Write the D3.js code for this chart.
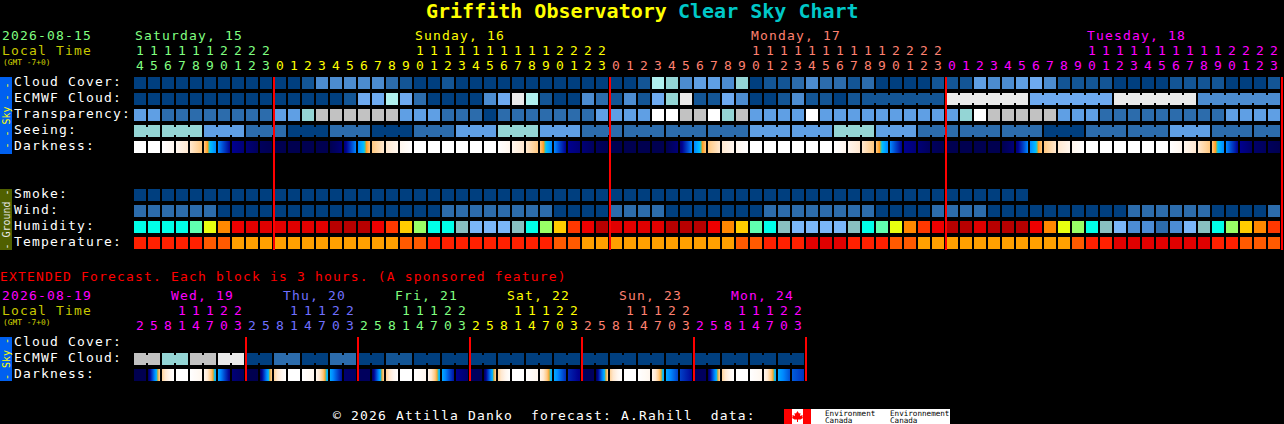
<!DOCTYPE html>
<html>
<head>
<meta charset="utf-8">
<title>Griffith Observatory Clear Sky Chart</title>
<script src="https://cdn.jsdelivr.net/npm/d3@7"></script>
<style>
    html, body { margin: 0; padding: 0; background: #000; overflow: hidden; }
    svg { display: block; }
    text { font-family: "DejaVu Sans Mono", monospace; font-size: 13px; letter-spacing: 1.17px; white-space: pre; }
</style>
</head>
<body>
<div id="chart"></div>
<script>
// forecast hours, one per column
const mainHours = [
    14, 15, 16, 17, 18, 19, 20, 21, 22, 23,
    0, 1, 2, 3, 4, 5, 6, 7, 8, 9, 10, 11, 12, 13, 14, 15, 16, 17, 18, 19, 20, 21, 22, 23,
    0, 1, 2, 3, 4, 5, 6, 7, 8, 9, 10, 11, 12, 13, 14, 15, 16, 17, 18, 19, 20, 21, 22, 23,
    0, 1, 2, 3, 4, 5, 6, 7, 8, 9, 10, 11, 12, 13, 14, 15, 16, 17, 18, 19, 20, 21, 22, 23
];
const extHours = [
    2, 5, 8, 11, 14, 17, 20, 23, 2, 5, 8, 11, 14, 17, 20, 23,
    2, 5, 8, 11, 14, 17, 20, 23, 2, 5, 8, 11, 14, 17, 20, 23,
    2, 5, 8, 11, 14, 17, 20, 23, 2, 5, 8, 11, 14, 17, 20, 23
];
const mainDays = ['Saturday, 15', 'Sunday, 16', 'Monday, 17', 'Tuesday, 18'];
const mainDayCols = [0, 20, 44, 68];
const mainDayBreaks = [0, 10, 34, 58, 82];
const extDays = ['Wed, 19', 'Thu, 20', 'Fri, 21', 'Sat, 22', 'Sun, 23', 'Mon, 24'];

// sky rows, indexes into skyColors
const cloudCover = [
    0, 0, 0, 0, 0, 0, 0, 0, 0, 0,
    0, 0, 1, 3, 3, 3, 3, 3, 2, 1,
    0, 0, 1, 0, 0, 0, 0, 0, 0, 0,
    0, 0, 0, 0, 0, 0, 1, 7, 6, 3,
    4, 4, 3, 6, 0, 1, 1, 2, 3, 2,
    2, 1, 2, 0, 0, 0, 0, 1, 1, 1,
    4, 3, 3, 4, 5, 3, 1, 1, 1, 1,
    0, 0, 0, 0, 1, 1, 1, 1, 0, 0,
    0, 1
];
const ecmwfCloud = [
    0, 0, 0, 0, 0, 0, 0, 0, 0, 0,
    0, 0, 0, 0, 0, 1, 5, 5, 7, 5,
    2, 0, 0, 0, 0, 3, 5, 9, 7, 1,
    0, 0, 3, 2, 1, 3, 1, 5, 6, 9,
    1, 1, 5, 3, 0, 0, 1, 3, 1, 1,
    0, 1, 1, 1, 1, 1, 1, 1, 9, 9,
    9, 9, 9, 9, 5, 5, 5, 5, 5, 5,
    9, 9, 9, 9, 9, 9, 3, 3, 3, 3,
    3, 3
];
const transparency = [
    4, 4, 2, 2, 2, 2, 2, 2, 2, 2,
    4, 4, 6, 8, 8, 8, 8, 8, 8, 4,
    4, 4, 2, 2, 2, 0, 2, 2, 2, 2,
    2, 2, 2, 4, 4, 4, 4, 10, 10, 8,
    8, 10, 6, 8, 4, 4, 4, 4, 10, 4,
    4, 4, 4, 4, 4, 4, 4, 4, 4, 6,
    10, 8, 8, 8, 8, 8, 4, 4, 4, 2,
    2, 2, 2, 2, 2, 2, 2, 2, 4, 4,
    4, 4
];
// seeing comes in 3 hour blocks, first and last are cut short
const seeing = [6, 6, 4, 2, 0, 2, 0, 2, 4, 6, 4, 2, 2, 2, 2, 4, 4, 6, 4, 2, 2, 2, 0, 2, 2, 4, 2, 2];
const seeingRuns = [2, 3, 3, 3, 3, 3, 3, 3, 3, 3, 3, 3, 3, 3, 3, 3, 3, 3, 3, 3, 3, 3, 3, 3, 3, 3, 3, 2];
const ecmwfRuns = [...Array(52).fill(1), 6, 6, 6, 6, 6];

// darkness at the left edge of each column (plus the closing edge)
const darkness = [
    8, 8, 8, 7, 6, 5, 3, 1, 0.6, 0.2,
    0, 0, 0, 0, 0, 0.6, 3, 5, 6, 7,
    8, 8, 8, 8, 8, 8, 8, 7, 6, 5,
    3, 1, 0.6, 0.2, 0, 0, 0, 0, 0, 0.6,
    3, 5, 6, 7, 8, 8, 8, 8, 8, 8,
    8, 7, 6, 5, 3, 1, 0.6, 0.2, 0, 0,
    0, 0, 0, 0.6, 3, 5, 6, 7, 8, 8,
    8, 8, 8, 8, 8, 7, 6, 5, 3, 1,
    0.4, 0.2, 0
];

const smoke = [
    0, 0, 0, 0, 0, 0, 0, 0, 0, 0, 0, 0, 0, 0, 0, 0,
    0, 0, 0, 0, 0, 0, 0, 0, 0, 0, 0, 0, 0, 0, 0, 0,
    0, 0, 0, 0, 0, 0, 0, 0, 0, 0, 0, 0, 0, 0, 0, 0,
    0, 0, 0, 0, 0, 0, 0, 0, 0, 0, 0, 0, 0, 0, 0, 0
];
const wind = [
    2, 2, 2, 2, 2, 2, 0, 0, 0, 0,
    0, 0, 0, 0, 0, 0, 0, 0, 0, 0,
    0, 0, 2, 2, 2, 2, 2, 2, 2, 2,
    0, 0, 0, 0, 2, 2, 2, 2, 0, 0,
    0, 0, 0, 0, 0, 2, 2, 2, 2, 2,
    2, 2, 2, 0, 0, 0, 0, 2, 2, 2,
    2, 0, 0, 0, 0, 0, 0, 0, 0, 0,
    0, 2, 2, 2, 2, 2, 2, 0, 0, 0,
    0, 2
];
const humidity = [
    4, 4, 4, 4, 5, 7, 9, 11, 12, 12,
    12, 12, 12, 12, 13, 13, 13, 11, 10, 8,
    6, 4, 4, 3, 2, 2, 2, 3, 4, 6,
    8, 10, 11, 13, 12, 12, 12, 12, 13, 13,
    13, 11, 9, 8, 5, 4, 3, 2, 2, 2,
    2, 3, 4, 5, 7, 9, 10, 11, 13, 13,
    12, 13, 13, 13, 11, 9, 7, 6, 4, 3,
    2, 1, 1, 0, 1, 2, 3, 4, 6, 8,
    9, 10
];
const temperature = [
    1, 1, 1, 1, 1, 2, 2, 3, 3, 3,
    3, 3, 3, 3, 3, 3, 3, 3, 3, 2,
    2, 1, 1, 1, 1, 1, 1, 1, 1, 1,
    2, 2, 3, 3, 3, 3, 3, 3, 3, 3,
    3, 3, 3, 2, 2, 1, 1, 1, 0, 0,
    0, 1, 1, 1, 2, 2, 3, 3, 3, 3,
    3, 3, 3, 3, 3, 3, 3, 2, 1, 1,
    0, 0, 0, 0, 0, 0, 0, 1, 1, 2,
    2, 2
];

// extended forecast, ecmwf is in 6 hour blocks
const extEcmwf = [8, 6, 8, 9, 0, 2, 0, 2, 0, 1, 0, 0, 0, 0, 0, 0, 0, 0, 0, 0, 0, 0, 0, 0];
const extDarkStart = [
    0, 0.2, 5.3, 8, 8, 7, 3.6, 0.6,
    0, 0.2, 5.3, 8, 8, 7, 3.6, 0.5,
    0.2, 0.2, 5.3, 8, 8, 7, 3.6, 1,
    0.2, 0.2, 5.3, 8, 8, 7, 3.6, 1.6,
    0.2, 0.2, 5.3, 8, 8, 7, 3.6, 2,
    0.2, 0.2, 5.3, 8, 8, 7, 3.6, 2.4
];
const extDarkEnd = [
    0, 5.3, 8, 8, 7, 3.6, 0.8, 0.2,
    0, 5.3, 8, 8, 7, 3.6, 1.2, 0.3,
    0.2, 5.3, 8, 8, 7, 3.6, 1.3, 0.4,
    0.2, 5.3, 8, 8, 7, 3.6, 1.7, 0.9,
    0.2, 5.3, 8, 8, 7, 3.6, 2, 1.1,
    0.2, 5.3, 8, 8, 7, 3.6, 2.2, 1.8
];

const skyColors = ['#003f7f', '#135595', '#2c6cac', '#4c8cd0', '#5f9fe4', '#6eaaf0', '#94d5d5', '#b0f0ee', '#c2c2c2', '#eaeaea', '#ffffff'];
const humidityColors = ['#2c6cac', '#4c8cd4', '#7ab6f8', '#88c0c0', '#00ffe8', '#60ffb0', '#99ff66', '#e8ff10', '#ffcc00', '#ff8800', '#ff3800', '#ee0000', '#e00000', '#b80000'];
const temperatureColors = ['#e00000', '#ff2000', '#ff5a00', '#ffa000'];
const dayColors = ['#80ff80', '#ffff00', '#ff8070', '#ff00ff'];
const extDayColors = ['#ff00ff', '#7070ff', '#80ff80', '#ffff00', '#ff8070', '#ff00ff'];

const darkScale = d3.scaleLinear()
    .domain([0, 1, 2, 3, 4, 4.2, 4.4, 5, 6, 7, 8])
    .range(['#000050', '#000090', '#0040c8', '#0088ff', '#00c0ff', '#60c080', '#ff9c20', '#ffc880', '#ffe8d0', '#fff6ee', '#ffffff']);

const cellSize = 12;
const xMain = d3.scaleLinear().domain([0, 82]).range([134, 1282]);
const xExt = d3.scaleLinear().domain([0, 48]).range([134, 806]);

const svg = d3.select('#chart').append('svg')
    .attr('width', 1284)
    .attr('height', 424);
const defs = svg.append('defs');

function label(x, y, str, color, size) {
    const t = svg.append('text')
        .attr('x', x)
        .attr('y', y)
        .attr('fill', color)
        .text(str);
    if (size) t.style('font-size', size + 'px').style('letter-spacing', '0');
    return t;
}

function expandRuns(values, runs) {
    const out = [];
    runs.forEach((n, i) => { for (let k = 0; k < n; k++) out.push(values[i]); });
    return out;
}

function drawRow(x, y, values, colors, runs) {
    const g = svg.append('g').attr('shape-rendering', 'crispEdges');
    g.selectAll('rect').data(values).join('rect')
        .attr('x', (d, i) => x(i))
        .attr('y', y)
        .attr('width', cellSize)
        .attr('height', cellSize)
        .attr('fill', d => colors[d]);
    if (!runs) return;
    // small bridge between the cells of one forecast block
    const bridges = [];
    let col = 0;
    runs.forEach(n => {
        for (let k = 0; k < n - 1; k++) bridges.push(col + k);
        col += n;
    });
    g.selectAll('rect.bridge').data(bridges).join('rect')
        .attr('class', 'bridge')
        .attr('x', i => x(i) + cellSize)
        .attr('y', y + 2)
        .attr('width', 2)
        .attr('height', cellSize - 4)
        .attr('fill', i => colors[values[i]]);
}

function drawDarkness(x, y, starts, ends, prefix) {
    const sample = d3.range(0, 1.01, 0.1);
    const cols = starts.map((s, i) => ({ i: i, s: s, e: ends[i] }));
    cols.forEach(c => {
        defs.append('linearGradient')
            .attr('id', prefix + c.i)
            .selectAll('stop').data(sample).join('stop')
            .attr('offset', t => t)
            .attr('stop-color', t => darkScale(c.s + (c.e - c.s) * t));
    });
    svg.append('g').attr('shape-rendering', 'crispEdges')
        .selectAll('rect').data(cols).join('rect')
        .attr('x', c => x(c.i))
        .attr('y', y)
        .attr('width', cellSize)
        .attr('height', cellSize)
        .attr('fill', c => `url(#${prefix}${c.i})`);
}

function drawHours(x, hours, color, yTens, yOnes) {
    hours.forEach((h, i) => {
        const cx = x(i) + cellSize / 2 + 0.5;
        if (h >= 10) label(cx, yTens, String(Math.floor(h / 10)), color(i)).attr('text-anchor', 'middle');
        label(cx, yOnes, String(h % 10), color(i)).attr('text-anchor', 'middle');
    });
}

function drawSide(y0, y1, fill, str, color) {
    svg.append('rect')
        .attr('x', 0)
        .attr('y', y0)
        .attr('width', 12)
        .attr('height', y1 - y0)
        .attr('fill', fill);
    svg.append('text')
        .attr('transform', `translate(9.5, ${(y0 + y1) / 2}) rotate(-90)`)
        .attr('text-anchor', 'middle')
        .attr('fill', color)
        .style('font-size', '10px')
        .style('letter-spacing', '0')
        .text(str);
}

function drawDayLines(x, cols, y0, y1) {
    svg.append('g').attr('shape-rendering', 'crispEdges')
        .selectAll('rect').data(cols).join('rect')
        .attr('x', c => x(c) - 1)
        .attr('y', y0)
        .attr('width', 2)
        .attr('height', y1 - y0)
        .attr('fill', '#ff0000');
}

// title
label(426, 18, 'Griffith Observatory', '#ffff00', 20).style('font-weight', 'bold');
label(678, 18, 'Clear Sky Chart', '#00c8c8', 20).style('font-weight', 'bold');

// main block header
label(2, 40, '2026-08-15', '#80ff80');
label(2, 55, 'Local Time', '#c8c800');
label(3, 65, '(GMT -7+0)', '#d8d800', 7.9);
mainDays.forEach((d, i) => label(xMain(mainDayCols[i]) + 1, 40, d, dayColors[i]));
const mainDayIndex = d3.scaleThreshold().domain(mainDayBreaks.slice(1, 4)).range([0, 1, 2, 3]);
drawHours(xMain, mainHours, i => dayColors[mainDayIndex(i)], 55, 70);

// sky rows
const skyLabels = ['Cloud Cover:', 'ECMWF Cloud:', 'Transparency:', 'Seeing:', 'Darkness:'];
const ySky = d3.scaleLinear().domain([0, 5]).range([77, 157]);
skyLabels.forEach((d, i) => label(14, ySky(i) + 9, d, '#ffffff'));
drawRow(xMain, ySky(0), cloudCover, skyColors);
drawRow(xMain, ySky(1), ecmwfCloud, skyColors, ecmwfRuns);
drawRow(xMain, ySky(2), transparency, skyColors);
drawRow(xMain, ySky(3), expandRuns(seeing, seeingRuns), skyColors, seeingRuns);
drawDarkness(xMain, ySky(4), darkness.slice(0, 82), darkness.slice(1), 'dark');
drawSide(77, 154, '#0060f0', '- - Sky - -', '#ffff00');

// ground rows
const groundLabels = ['Smoke:', 'Wind:', 'Humidity:', 'Temperature:'];
const yGround = d3.scaleLinear().domain([0, 4]).range([189, 253]);
groundLabels.forEach((d, i) => label(14, yGround(i) + 9, d, '#ffffff'));
drawRow(xMain, yGround(0), smoke, skyColors);
drawRow(xMain, yGround(1), wind, skyColors);
drawRow(xMain, yGround(2), humidity, humidityColors);
drawRow(xMain, yGround(3), temperature, temperatureColors);
drawSide(189, 250, '#506000', '- Ground -', '#e8e8e8');
drawDayLines(xMain, mainDayBreaks.slice(1), 77, 250);

// extended forecast
label(0, 281, 'EXTENDED Forecast. Each block is 3 hours. (A sponsored feature)', '#ff0000');
label(2, 300, '2026-08-19', '#ff00ff');
label(2, 315, 'Local Time', '#c8c800');
label(3, 325, '(GMT -7+0)', '#d8d800', 7.9);
extDays.forEach((d, i) => label(xExt(i * 8 + 2) + 9, 300, d, extDayColors[i]));
drawHours(xExt, extHours, i => extDayColors[Math.floor(i / 8)], 315, 330);

const extLabels = ['Cloud Cover:', 'ECMWF Cloud:', 'Darkness:'];
const yExt = d3.scaleLinear().domain([0, 3]).range([337, 385]);
extLabels.forEach((d, i) => label(14, yExt(i) + 9, d, '#ffffff'));
drawRow(xExt, yExt(1), expandRuns(extEcmwf, extEcmwf.map(() => 2)), skyColors, extEcmwf.map(() => 2));
drawDarkness(xExt, yExt(2), extDarkStart, extDarkEnd, 'extdark');
drawSide(337, 381, '#0060f0', '- Sky -', '#ffff00');
drawDayLines(xExt, [8, 16, 24, 32, 40, 48], 337, 381);

// footer
label(333, 420, '\u00a9 2026 Attilla Danko  forecast: A.Rahill  data:', '#ffffff');

const logo = svg.append('g').attr('transform', 'translate(784, 409)');
logo.append('rect').attr('width', 166).attr('height', 15).attr('fill', '#ffffff').attr('shape-rendering', 'crispEdges');
logo.append('rect').attr('width', 8).attr('height', 15).attr('fill', '#ff0000').attr('shape-rendering', 'crispEdges');
logo.append('rect').attr('x', 19).attr('width', 8).attr('height', 15).attr('fill', '#ff0000').attr('shape-rendering', 'crispEdges');
logo.append('path')
    .attr('d', 'M13.5 2 L15 4.5 L16.5 4 L16 7 L18.5 6 L18.5 8 L19 9 L16.5 10.5 L14 10.5 L14 13 L13 13 L13 10.5 L10.5 10.5 L8 9 L8.5 8 L8.5 6 L11 7 L10.5 4 L12 4.5 Z')
    .attr('fill', '#ff0000');
[['Environment', 41], ['Environnement', 106]].forEach(d => {
    logo.append('text').attr('x', d[1]).attr('y', 7).attr('fill', '#000').style('font-size', '7.6px').style('letter-spacing', '0').text(d[0]);
    logo.append('text').attr('x', d[1]).attr('y', 14).attr('fill', '#000').style('font-size', '7.6px').style('letter-spacing', '0').text('Canada');
});
</script>
</body>
</html>
